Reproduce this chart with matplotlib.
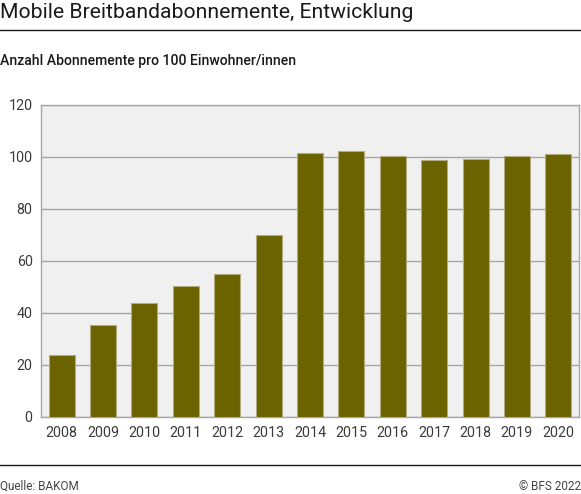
import matplotlib
matplotlib.use("Agg")
import matplotlib.pyplot as plt

plt.rcParams['font.family'] = ['Roboto', 'DejaVu Sans']

#data
years = ['2008', '2009', '2010', '2011', '2012', '2013', '2014',
         '2015', '2016', '2017', '2018', '2019', '2020']
values = [23.6, 35.3, 43.9, 50.5, 54.8, 70.1, 101.7,
          102.1, 100.4, 98.8, 99.2, 100.4, 101.2]
yticks = [0, 20, 40, 60, 80, 100, 120]

W, H = 581, 494
fig = plt.figure(figsize=(W / 100, H / 100), dpi=100)

#titles and rules
fig.text(0, 1 - 13 / H, 'Mobile Breitbandabonnemente, Entwicklung',
         fontsize=15.2, color='#1a1a1a', va='center', ha='left')
fig.add_artist(plt.Line2D([0, 1], [1 - 30.5 / H] * 2, color='#1a1a1a', lw=1))
fig.text(0, 1 - 61 / H, 'Anzahl Abonnemente pro 100 Einwohner/innen',
         fontsize=10.1, fontweight='medium', color='#1a1a1a', va='center', ha='left')
fig.add_artist(plt.Line2D([0, 1], [1 - 465 / H] * 2, color='#1a1a1a', lw=1))
fig.text(0, 1 - 486 / H, 'Quelle: BAKOM', fontsize=8.5, color='#444444',
         va='center', ha='left')
fig.text(1, 1 - 486 / H, '© BFS 2022', fontsize=8.5, color='#444444',
         va='center', ha='right')

#chart
ax = fig.add_axes([41 / W, 1 - 416.7 / H, 538 / W, 311.7 / H])
ax.set_facecolor('#f0f0f0')
x = range(len(years))
ax.bar(x, values, width=0.63, color='#6b6200', edgecolor='#b3ac7c', linewidth=0.8, zorder=3)
ax.set_xlim(-0.5, len(years) - 0.5)
ax.set_ylim(0, 120)
ax.set_yticks(yticks)
ax.set_xticks(list(x))
ax.set_xticklabels(years)
ax.grid(axis='y', color='#a6a6a6', lw=1, zorder=1)
for s in ax.spines.values():
    s.set_color('#a6a6a6')
    s.set_linewidth(1)
ax.tick_params(length=0, labelsize=10.3, labelcolor='#3a3a3a')
ax.tick_params(axis='y', pad=6)
ax.tick_params(axis='x', pad=7)

fig.savefig('out.png', dpi=100)
